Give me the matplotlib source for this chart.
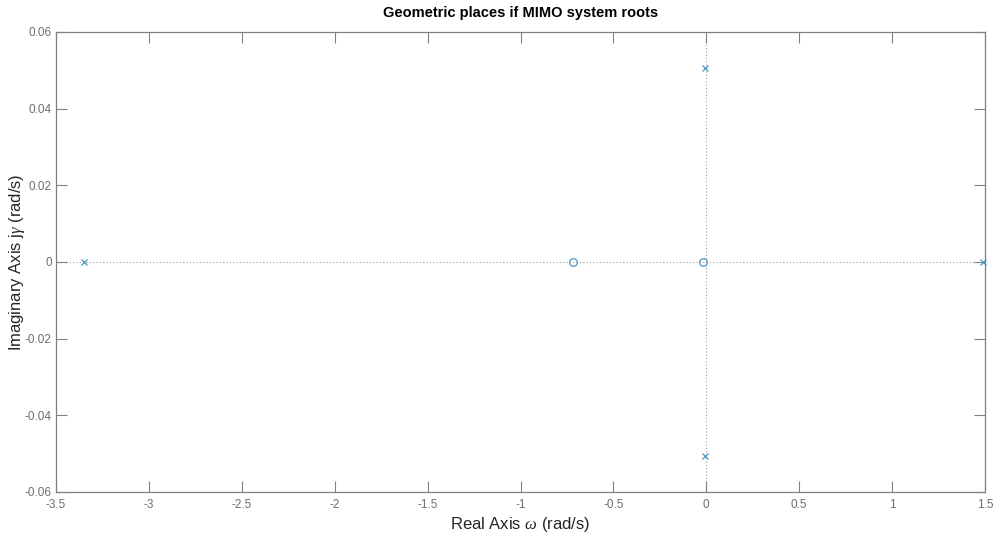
import matplotlib
matplotlib.use("Agg")
import matplotlib.pyplot as plt

plt.rcParams["font.family"] = ["Liberation Sans", "DejaVu Sans"]
plt.rcParams["mathtext.fontset"] = "custom"
plt.rcParams["mathtext.it"] = "Liberation Serif:italic"
plt.rcParams["mathtext.rm"] = "Liberation Sans"

# Poles and zeros of the MIMO system (real, imaginary parts)
pole_re = [-3.35, -0.007, -0.007, 1.489]
pole_im = [0.0, 0.0506, -0.0506, 0.0]
zero_re = [-0.717, -0.018]
zero_im = [0.0, 0.0]

xticks = [-3.5, -3, -2.5, -2, -1.5, -1, -0.5, 0, 0.5, 1, 1.5]
yticks = [-0.06, -0.04, -0.02, 0, 0.02, 0.04, 0.06]

W, H = 993, 536
fig = plt.figure(figsize=(W / 100, H / 100), dpi=100)
ax = fig.add_axes([56 / W, (H - 492) / H, (985 - 56) / W, (492 - 32) / H])

marker_col = "#4a98c4"
axis_col = "#808080"

ax.axhline(0, color="#a0a0a0", lw=0.8, ls=(0, (1, 2)), zorder=1)
ax.axvline(0, color="#a0a0a0", lw=0.8, ls=(0, (1, 2)), zorder=1)

ax.plot(pole_re, pole_im, ls="none", marker="x", ms=5, mew=0.9,
        color=marker_col, clip_on=False, zorder=3)
ax.plot(zero_re, zero_im, ls="none", marker="o", ms=5.5, mew=0.9,
        mfc="none", mec=marker_col, clip_on=False, zorder=3)

ax.set_xlim(-3.5, 1.5)
ax.set_ylim(-0.06, 0.06)
ax.set_xticks(xticks)
ax.set_yticks(yticks)
ax.set_xticklabels([f"{t:g}" for t in xticks])
ax.set_yticklabels([f"{t:g}" for t in yticks])

for s in ax.spines.values():
    s.set_color(axis_col)
    s.set_linewidth(0.9)
ax.tick_params(direction="in", length=8, width=0.8, color=axis_col,
               labelcolor="#6e6e6e", labelsize=8.5, top=True, right=True, pad=3)
ax.tick_params(axis="x", pad=5)

ax.set_title("Geometric places if MIMO system roots", fontsize=10.5,
             fontweight="bold", pad=11)
ax.set_xlabel(r"Real Axis $\omega$ (rad/s)", fontsize=12, color="#262626", labelpad=3)
ax.set_ylabel(r"Imaginary Axis j$\gamma$ (rad/s)", fontsize=12, color="#262626")
ax.yaxis.set_label_coords(-29 / (985 - 56), 0.5)

fig.savefig("out.png", dpi=100)
